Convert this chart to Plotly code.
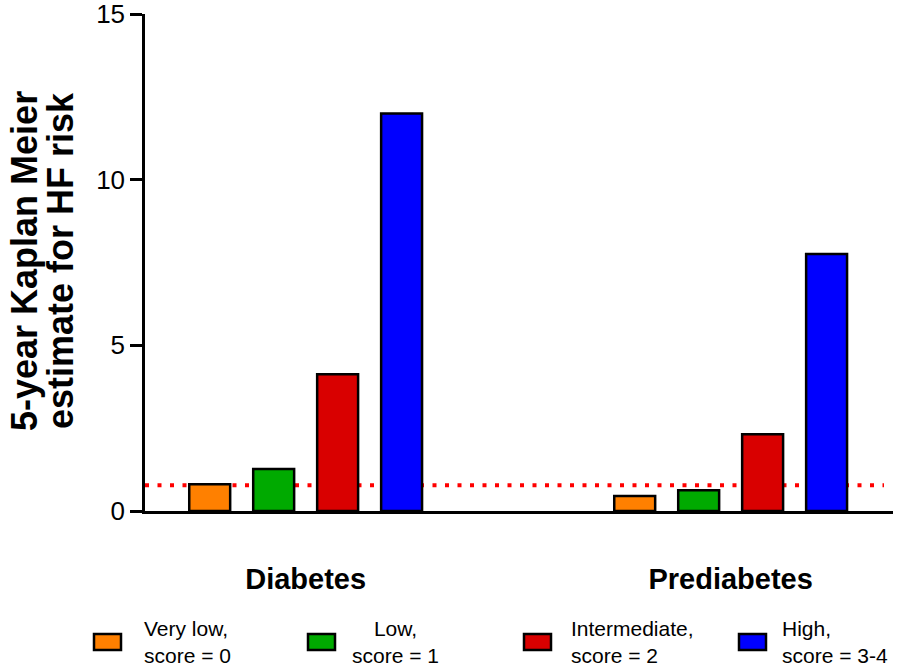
import plotly.graph_objects as go

# ---- data ----
groups = ["Diabetes", "Prediabetes"]
risk_labels = ["Very low,<br>score = 0", "Low,<br>score = 1",
               "Intermediate,<br>score = 2", "High,<br>score = 3-4"]
very_low = [0.81, 0.45]
low = [1.27, 0.63]
intermediate = [4.13, 2.32]
high = [12.0, 7.76]
reference_value = 0.78
y_ticks = [0, 5, 10, 15]
y_title_lines = ["5-year Kaplan Meier", "estimate for HF risk"]

series = [very_low, low, intermediate, high]
colors = ["#FF8000", "#00AA00", "#D90000", "#0000FF"]

# ---- layout geometry (pixels) ----
W, H = 900, 668
L, R, T, B = 145, 7, 14, 157
PW, PH = W - L - R, H - T - B


def px_x(x):
    return (x - L) / PW


def px_y(y):
    return (H - B - y) / PH


FONT = "Liberation Sans, Arial, sans-serif"

fig = go.Figure()
for name, vals, col in zip(risk_labels, series, colors):
    fig.add_trace(go.Bar(
        x=groups, y=vals, name=name,
        marker=dict(color=col, line=dict(color="black", width=2.5)),
        showlegend=False, hoverinfo="skip",
    ))

# reference dotted line
fig.add_shape(type="line", xref="paper", yref="y",
              x0=0, x1=px_x(884), y0=reference_value, y1=reference_value,
              line=dict(color="#FF0000", width=4, dash="4px,8.5px"), layer="below")

annotations = []
# y-axis title (two lines placed separately for tight spacing)
for line_text, lx in zip(y_title_lines, [24, 60]):
    annotations.append(dict(
        text="<b>" + line_text + "</b>", xref="paper", yref="paper",
        x=px_x(lx), y=px_y(261), xanchor="center", yanchor="middle",
        textangle=-90, showarrow=False, font=dict(family=FONT, size=36, color="black"),
    ))

# manual legend
swatch_x = [94, 308, 524, 739]
text_x = [142, 350, 569, 780]
aligns = ["left", "center", "left", "left"]
leg_y = 642
for sx, tx, al, name, col in zip(swatch_x, text_x, aligns, risk_labels, colors):
    fig.add_shape(type="rect", xref="paper", yref="paper",
                  x0=px_x(sx), x1=px_x(sx + 27), y0=px_y(leg_y - 8), y1=px_y(leg_y + 8),
                  fillcolor=col, line=dict(color="black", width=2.5))
    annotations.append(dict(
        text=name, xref="paper", yref="paper", x=px_x(tx), y=px_y(leg_y),
        xanchor="left", yanchor="middle", align=al, showarrow=False,
        font=dict(family=FONT, size=21, color="black"),
    ))

fig.update_layout(
    width=W, height=H,
    margin=dict(l=L, r=R, t=T, b=B, pad=0, autoexpand=False),
    paper_bgcolor="white", plot_bgcolor="white",
    barmode="group", bargap=0.398, bargroupgap=0.36,
    showlegend=False,
    annotations=annotations,
    xaxis=dict(
        type="category", range=[-0.378, 1.382], automargin=False,
        showline=True, linecolor="black", linewidth=2.5,
        ticks="", showgrid=False, zeroline=False,
        tickfont=dict(family=FONT, size=29, color="black"),
        tickvals=groups, ticktext=["<b>" + g + "</b>" for g in groups],
        ticklabelstandoff=40,
    ),
    yaxis=dict(
        range=[0, 15], tickvals=y_ticks, automargin=False,
        showline=True, linecolor="black", linewidth=2.5,
        ticks="outside", ticklen=12, tickwidth=2.5, tickcolor="black",
        showgrid=False, zeroline=False, ticklabeloverflow="allow",
        tickfont=dict(family=FONT, size=26, color="black"),
    ),
)

fig.write_html("out.html", config={"displayModeBar": False},
               post_script="document.body.style.margin='0';document.body.style.padding='0';")
